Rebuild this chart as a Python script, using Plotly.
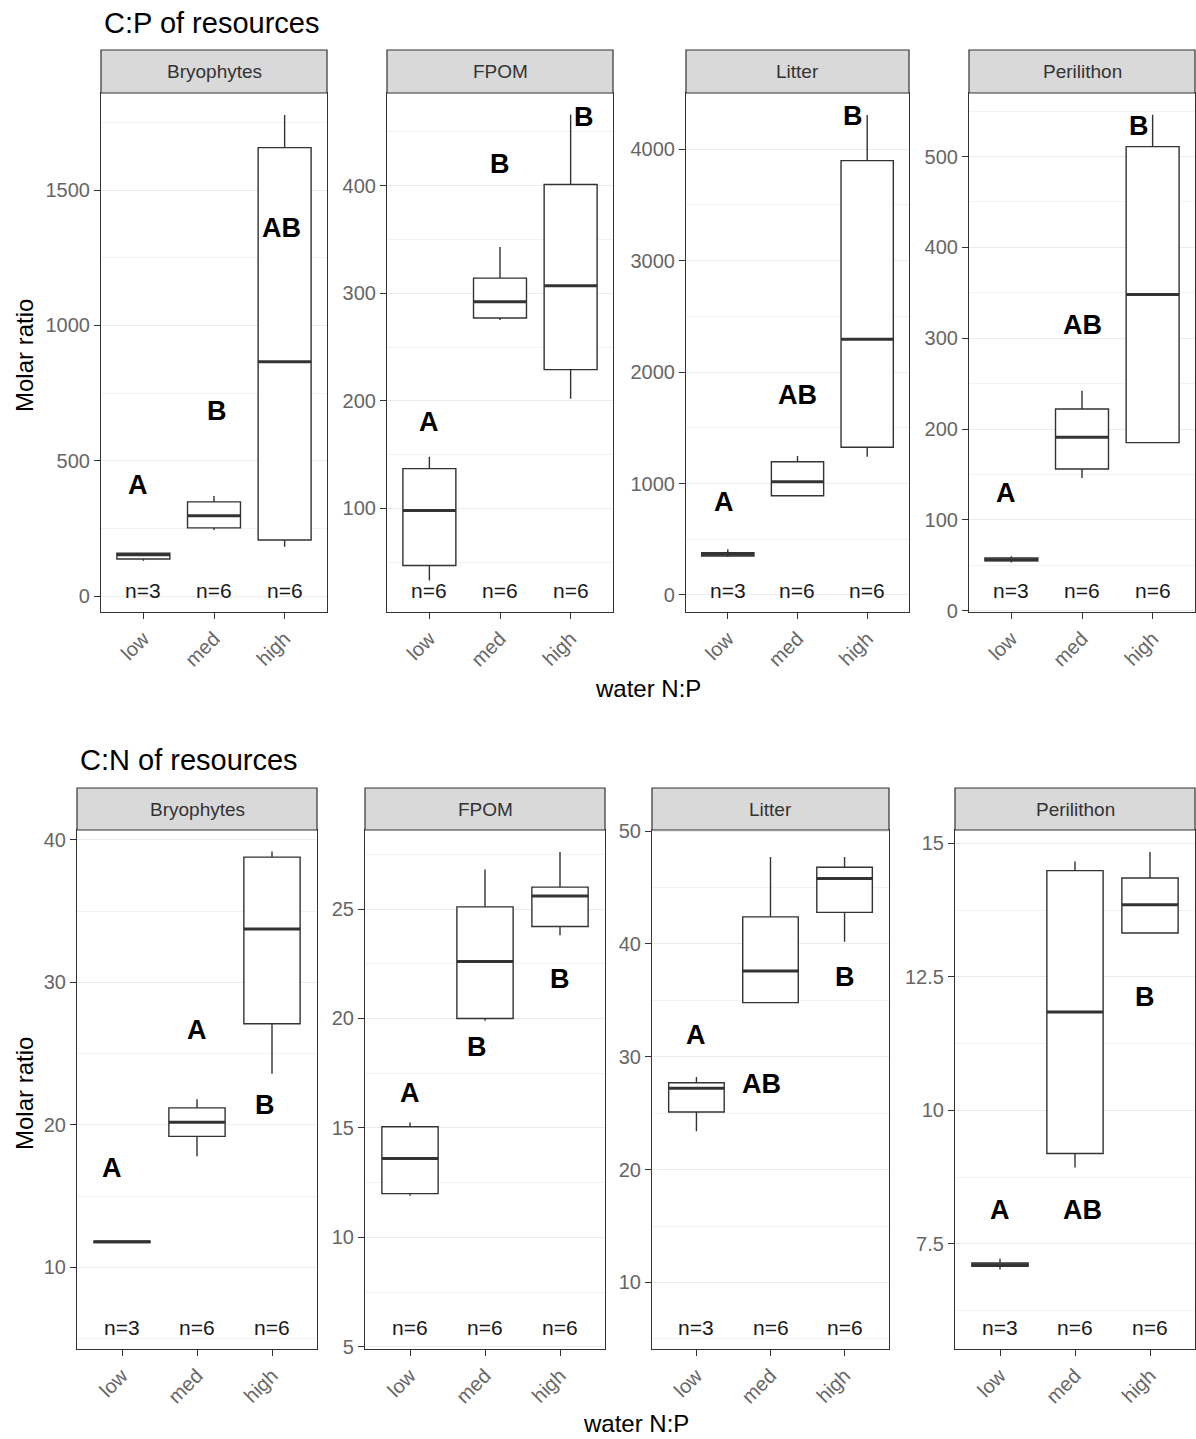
import plotly.graph_objects as go

# ---- data ----
resources = ["Bryophytes", "FPOM", "Litter", "Perilithon"]
levels = ["low", "med", "high"]

# C:P of resources
cp_n = [[3, 6, 6], [6, 6, 6], [3, 6, 6], [3, 6, 6]]
cp_lower = [[130, 244, 182], [33, 275, 202], [340, 890, 1240], [53, 146, 185]]
cp_q1 = [[137, 252, 207], [47, 277, 229], [350, 890, 1325], [55, 156, 185]]
cp_median = [[153, 297, 866], [98, 292, 307], [365, 1016, 2294], [56, 191, 348]]
cp_q3 = [[158, 348, 1657], [137, 314, 401], [380, 1196, 3898], [58, 222, 511]]
cp_upper = [[160, 370, 1778], [148, 343, 466], [410, 1247, 4308], [60, 242, 546]]
cp_letters = [["A", "B", "AB"], ["A", "B", "B"], ["A", "AB", "B"], ["A", "AB", "B"]]
cp_letter_y = [[410, 684, 1360], [180, 420, 464], [837, 1794, 4297], [129, 315, 534]]

# C:N of resources
cn_n = [[3, 6, 6], [6, 6, 6], [3, 6, 6], [3, 6, 6]]
cn_lower = [[11.8, 17.8, 23.6], [11.9, 19.9, 23.8], [23.4, 34.8, 40.2], [7.02, 8.93, 13.32]]
cn_q1 = [[11.75, 19.2, 27.1], [12.0, 20.0, 24.2], [25.1, 34.8, 42.8], [7.08, 9.19, 13.32]]
cn_median = [[11.8, 20.2, 33.75], [13.6, 22.6, 25.6], [27.2, 37.6, 45.8], [7.11, 11.84, 13.85]]
cn_q3 = [[11.85, 21.2, 38.8], [15.05, 25.1, 26.0], [27.7, 42.4, 46.8], [7.14, 14.49, 14.35]]
cn_upper = [[11.9, 21.8, 39.2], [15.25, 26.8, 27.6], [28.2, 47.7, 47.7], [7.22, 14.66, 14.84]]
cn_letters = [["A", "A", "B"], ["A", "B", "B"], ["A", "AB", "B"], ["A", "AB", "B"]]
cn_letter_y = [[17.0, 26.7, 21.4], [16.6, 18.7, 21.8], [31.9, 27.6, 37.1], [8.14, 8.14, 12.13]]

# ---- layout / style ----
W, H = 1196, 1439
FONT = "Liberation Sans, Arial, sans-serif"
DARK = "#333333"
GRID = "#EBEBEB"
BOX_W = 0.75

cp_letter_nudge = [[-0.08, 0.04, -0.04], [0, 0, 0.19], [-0.05, 0, -0.2], [-0.08, 0, -0.2]]
cn_letter_nudge = [[-0.13, 0, -0.09], [0, -0.11, 0], [0, -0.12, 0], [0, 0.1, -0.07]]

rows = [
    dict(title="C:P of resources", title_x=102, title_y=23,
         xpix=[(101, 327), (387, 613), (686, 909), (969, 1195)],
         ypix=(93, 612), strip=(50, 93), xlab_x=648, xlab_y=688, ylab_y=356,
         yrange=[[-59, 1859], [3.8, 486], [-153, 4505], [-1.5, 570]],
         dtick=[500, 100, 1000, 100],
         n=cp_n, lo=cp_lower, q1=cp_q1, med=cp_median, q3=cp_q3, hi=cp_upper,
         let=cp_letters, let_y=cp_letter_y, nudge=cp_letter_nudge),
    dict(title="C:N of resources", title_x=78, title_y=760,
         xpix=[(77, 317), (365, 605), (652, 889), (955, 1195)],
         ypix=(830, 1349), strip=(788, 830), xlab_x=636, xlab_y=1423, ylab_y=1094,
         yrange=[[4.28, 40.7], [4.9, 28.61], [4.1, 50.1], [5.53, 15.25]],
         dtick=[10, 5, 10, 2.5],
         n=cn_n, lo=cn_lower, q1=cn_q1, med=cn_median, q3=cn_q3, hi=cn_upper,
         let=cn_letters, let_y=cn_letter_y, nudge=cn_letter_nudge),
]


def px_x(v):
    return v / W


def px_y(v):
    return 1 - v / H


fig = go.Figure()
annotations = []
shapes = []
k = 0
for row in rows:
    for j, res in enumerate(resources):
        k += 1
        xa = "x" if k == 1 else f"x{k}"
        ya = "y" if k == 1 else f"y{k}"
        xs = list(range(len(levels)))

        fig.add_trace(go.Box(
            x=xs, q1=row["q1"][j], median=row["med"][j], q3=row["q3"][j],
            lowerfence=row["lo"][j], upperfence=row["hi"][j],
            width=BOX_W, whiskerwidth=0, fillcolor="white",
            line=dict(color=DARK, width=1.4), boxpoints=False,
            xaxis=xa, yaxis=ya, showlegend=False, hoverinfo="skip"))

        # thicker median line, as in ggplot
        mx, my = [], []
        for i, m in enumerate(row["med"][j]):
            mx += [i - BOX_W / 2, i + BOX_W / 2, None]
            my += [m, m, None]
        fig.add_trace(go.Scatter(x=mx, y=my, mode="lines",
                                 line=dict(color=DARK, width=3),
                                 xaxis=xa, yaxis=ya, showlegend=False,
                                 hoverinfo="skip"))

        x0, x1 = row["xpix"][j]
        y0, y1 = row["ypix"]
        dt = row["dtick"][j]
        fig.layout[("xaxis" if k == 1 else f"xaxis{k}")] = dict(
            domain=[px_x(x0), px_x(x1)], anchor=ya, range=[-0.6, 2.6],
            tickmode="array", tickvals=xs, ticktext=levels, tickangle=-45,
            showgrid=False, zeroline=False, showline=True, mirror=True,
            linecolor=DARK, linewidth=1.2, ticks="outside", ticklen=6,
            tickcolor=DARK, automargin=False,
            tickfont=dict(family=FONT, size=20, color="#666666"))
        fig.layout[("yaxis" if k == 1 else f"yaxis{k}")] = dict(
            domain=[px_y(y1), px_y(y0)], anchor=xa, range=row["yrange"][j],
            tick0=0, dtick=dt, showgrid=True, gridcolor=GRID, gridwidth=1,
            minor=dict(dtick=dt / 2, tick0=0, showgrid=True, gridcolor="#F2F2F2",
                       gridwidth=1),
            zeroline=False, showline=True, mirror=True, linecolor=DARK,
            linewidth=1.2, ticks="outside", ticklen=6, tickcolor=DARK,
            automargin=False,
            tickfont=dict(family=FONT, size=20, color="#666666"))

        # strip
        s0, s1 = row["strip"]
        shapes.append(dict(type="rect", xref="paper", yref="paper",
                           x0=px_x(x0), x1=px_x(x1), y0=px_y(s1), y1=px_y(s0),
                           fillcolor="#D9D9D9", line=dict(color=DARK, width=1.2)))
        annotations.append(dict(text=res, xref="paper", yref="paper",
                                x=px_x((x0 + x1) / 2), y=px_y((s0 + s1) / 2),
                                showarrow=False, xanchor="center", yanchor="middle",
                                font=dict(family=FONT, size=19, color="#333333")))

        # n labels and significance letters
        for i in xs:
            annotations.append(dict(text=f"n={row['n'][j][i]}", xref=xa,
                                    yref=f"{ya} domain", x=i, y=0, yshift=8,
                                    showarrow=False, yanchor="bottom",
                                    font=dict(family=FONT, size=21, color="#1a1a1a")))
            annotations.append(dict(text=f"<b>{row['let'][j][i]}</b>", xref=xa,
                                    yref=ya, x=i + row["nudge"][j][i],
                                    y=row["let_y"][j][i], showarrow=False,
                                    yanchor="middle",
                                    font=dict(family=FONT, size=27, color="black")))

    annotations.append(dict(text=row["title"], xref="paper", yref="paper",
                            x=px_x(row["title_x"]), y=px_y(row["title_y"]),
                            xanchor="left", yanchor="middle", showarrow=False,
                            font=dict(family=FONT, size=29, color="black")))
    annotations.append(dict(text="water N:P", xref="paper", yref="paper",
                            x=px_x(row["xlab_x"]), y=px_y(row["xlab_y"]),
                            xanchor="center", yanchor="middle", showarrow=False,
                            font=dict(family=FONT, size=24, color="black")))
    annotations.append(dict(text="Molar ratio", xref="paper", yref="paper",
                            x=px_x(24), y=px_y(row["ylab_y"]), textangle=-90,
                            xanchor="center", yanchor="middle", showarrow=False,
                            font=dict(family=FONT, size=24, color="black")))

fig.update_layout(width=W, height=H,
                  margin=dict(l=0, r=0, t=0, b=0, pad=0, autoexpand=False),
                  autosize=False, title=dict(text=""),
                  paper_bgcolor="white", plot_bgcolor="white",
                  annotations=annotations, shapes=shapes, showlegend=False)

fig.write_html("out.html", config={"displayModeBar": False},
               post_script="document.body.style.margin='0';"
                           "document.body.style.overflow='hidden';")
